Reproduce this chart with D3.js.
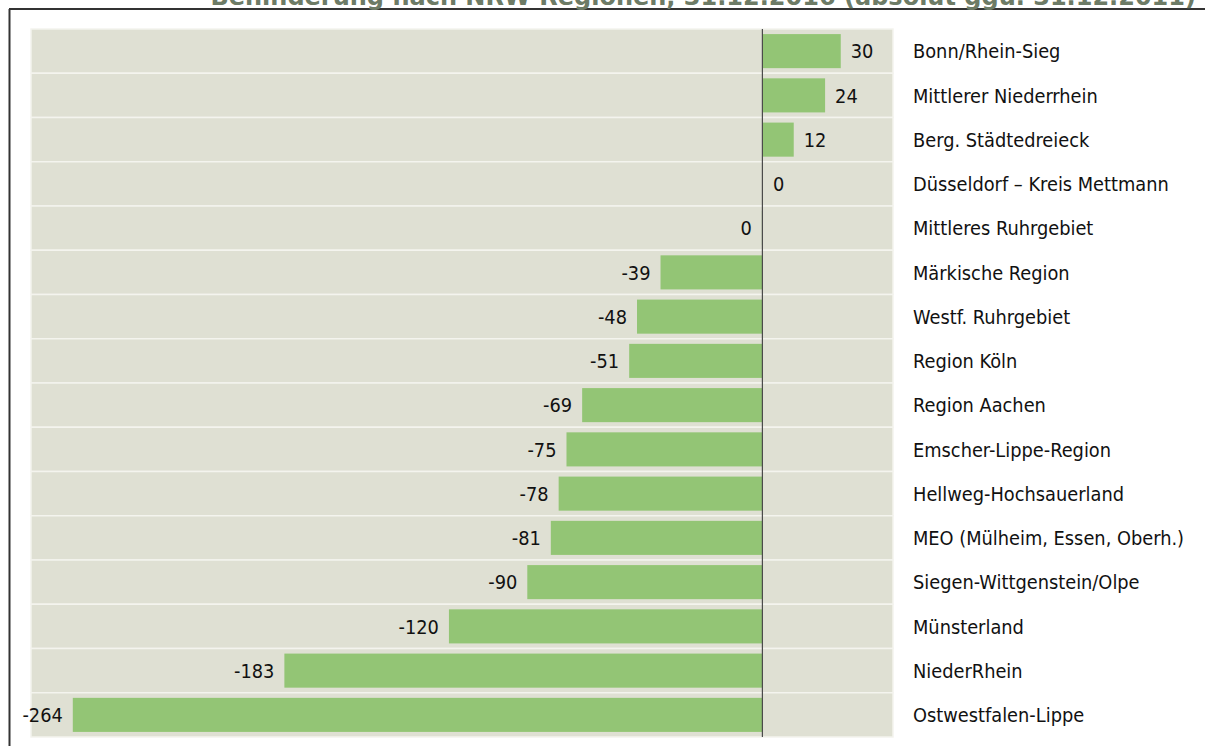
<!DOCTYPE html>
<html><head><meta charset="utf-8">
<script src="https://cdn.jsdelivr.net/npm/d3@7"></script>
<style>body{margin:0;background:#fff}svg{display:block}</style>
</head><body>
<svg id="c" width="1205" height="746"></svg>
<script>
const title = "Behinderung nach NRW-Regionen, 31.12.2016 (absolut ggü. 31.12.2011)";
const categories = ["Bonn/Rhein-Sieg","Mittlerer Niederrhein","Berg. Städtedreieck","Düsseldorf – Kreis Mettmann","Mittleres Ruhrgebiet","Märkische Region","Westf. Ruhrgebiet","Region Köln","Region Aachen","Emscher-Lippe-Region","Hellweg-Hochsauerland","MEO (Mülheim, Essen, Oberh.)","Siegen-Wittgenstein/Olpe","Münsterland","NiederRhein","Ostwestfalen-Lippe"];
const values = [30,24,12,0.2,-0.2,-39,-48,-51,-69,-75,-78,-81,-90,-120,-183,-264];
const xDomain = [-280, 50];

const svg = d3.select("#c");
const font = "'DejaVu Sans Condensed','DejaVu Sans',sans-serif";
const fs = 19.8;
const x = d3.scaleLinear().domain(xDomain).range([31, 893]);
const y = d3.scaleBand().domain(categories).range([29, 737]).paddingInner(0.23).paddingOuter(0.115);

// frame
svg.append("line").attr("x1",9.5).attr("x2",9.5).attr("y1",9).attr("y2",746).attr("stroke","#333").attr("stroke-width",2);
svg.append("line").attr("x1",9).attr("x2",1205).attr("y1",9).attr("y2",9).attr("stroke","#333").attr("stroke-width",2);

// title (cut at top, as in the reference)
const t = svg.append("text").attr("x",1196).attr("y",5).attr("text-anchor","end")
  .attr("font-family","'DejaVu Sans',sans-serif").attr("font-weight","bold").attr("font-size",22)
  .attr("fill","#6d7b66").text(title);
const tl = t.node().getComputedTextLength();
t.attr("font-size", 22*986/tl);

// background rows
svg.append("g").selectAll("rect").data(categories).join("rect")
  .attr("x",x(xDomain[0])).attr("width",x(xDomain[1])-x(xDomain[0]))
  .attr("y",(d,i)=>29+i*(708/categories.length)).attr("height",708/categories.length)
  .attr("fill","#dfe0d3").attr("stroke","#f4f4ee").attr("stroke-width",1.5);

// bars
svg.append("g").selectAll("rect").data(values).join("rect")
  .attr("x",d=>x(Math.min(0,d))).attr("width",d=>Math.abs(x(d)-x(0)))
  .attr("y",(d,i)=>y(categories[i])).attr("height",y.bandwidth())
  .attr("fill","#93c575");

// zero line
svg.append("line").attr("x1",x(0)).attr("x2",x(0)).attr("y1",29).attr("y2",737)
  .attr("stroke","#4a4a4a").attr("stroke-width",1.2);

// value labels
svg.append("g").selectAll("text").data(values).join("text")
  .attr("x",d=>d>=0 ? x(d)+10 : x(d)-10)
  .attr("y",(d,i)=>y(categories[i])+y.bandwidth()/2)
  .attr("dy","0.36em")
  .attr("text-anchor",d=>d>=0?"start":"end")
  .attr("font-family",font).attr("font-size",fs).attr("fill","#111")
  .text(d=>String(Math.round(d)));

// category labels
svg.append("g").selectAll("text").data(categories).join("text")
  .attr("x",913).attr("y",d=>y(d)+y.bandwidth()/2).attr("dy","0.36em")
  .attr("font-family",font).attr("font-size",fs).attr("fill","#111")
  .text(d=>d);
</script>
</body></html>
